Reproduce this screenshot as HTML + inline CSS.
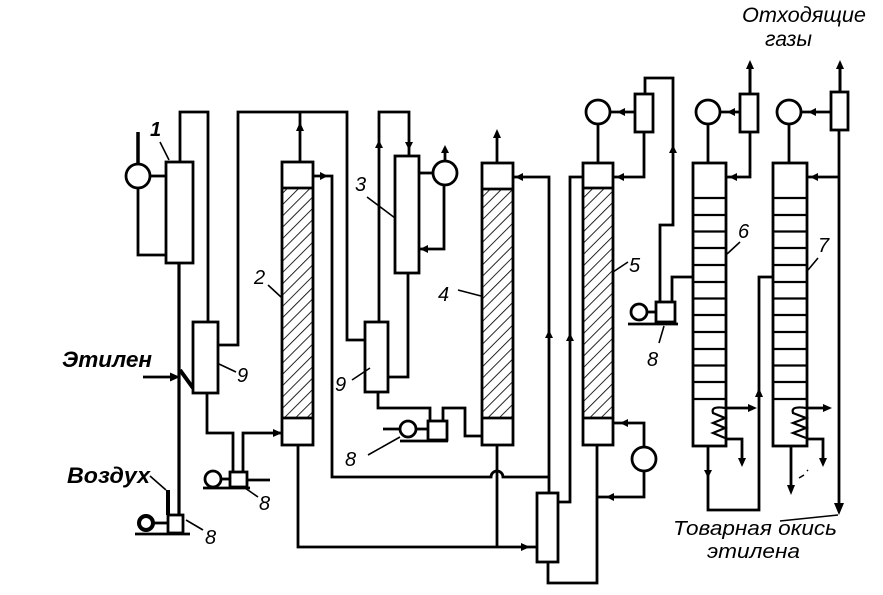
<!DOCTYPE html>
<html><head><meta charset="utf-8"><style>
html,body{margin:0;padding:0;background:#fff;}
svg{display:block;}
.t{font-family:"Liberation Sans","DejaVu Sans",sans-serif;font-style:italic;fill:#000;}
</style></head><body>
<svg width="883" height="595" viewBox="0 0 883 595" xmlns="http://www.w3.org/2000/svg">
<defs>
<pattern id="h" patternUnits="userSpaceOnUse" width="8" height="8" patternTransform="rotate(45)">
<line x1="0" y1="0" x2="0" y2="8" stroke="#000" stroke-width="1.7"/>
</pattern>
</defs>
<rect width="883" height="595" fill="#fff"/>
<g fill="none" stroke="#000" stroke-width="2.8" stroke-linejoin="miter">
<!-- LEFT: unit 1 -->
<rect x="166" y="162" width="27" height="101" fill="#fff"/>
<circle cx="138" cy="176" r="12" fill="#fff"/>
<line x1="150" y1="176" x2="166" y2="176"/>
<line x1="138" y1="164" x2="138" y2="132" stroke-width="3.5"/>
<path d="M138,188 V255 H166"/>
<path d="M180,162 V112 H208 V322"/>
<line x1="179" y1="263" x2="179" y2="515" stroke-width="3.2"/>
<line x1="143" y1="377" x2="172" y2="377"/>
<line x1="180" y1="370" x2="193" y2="388" stroke-width="4"/>
<line x1="160" y1="142" x2="169" y2="160" stroke-width="1.6"/>
<!-- 9 left -->
<rect x="193" y="322" width="25" height="71" fill="#fff"/>
<path d="M218,345 H238 V112 H347 V340 H365"/>
<line x1="300" y1="112" x2="300" y2="162"/>
<line x1="219" y1="364" x2="236" y2="372" stroke-width="1.6"/>
<!-- column 2 -->
<rect x="282" y="188" width="31" height="230" fill="url(#h)" stroke="none"/>
<rect x="282" y="162" width="31" height="283"/>
<line x1="282" y1="188" x2="313" y2="188"/>
<line x1="282" y1="418" x2="313" y2="418"/>
<path d="M313,176 H332 V477 H491 A6,6 0 0 1 503,477 H549"/>
<line x1="268" y1="285" x2="281" y2="297" stroke-width="1.6"/>
<!-- pump 8 left-mid -->
<path d="M207,393 V433 H233 V472"/>
<path d="M243,472 V433 H282"/>
<circle cx="213" cy="479" r="8" fill="#fff"/>
<rect x="230" y="472" width="17" height="15" fill="#fff"/>
<line x1="221" y1="479" x2="230" y2="479"/>
<line x1="203" y1="488" x2="250" y2="488"/>
<line x1="247" y1="480" x2="270" y2="480"/>
<line x1="245" y1="488" x2="258" y2="497" stroke-width="1.6"/>
<!-- col 2 bottom line -->
<path d="M298,445 V547 H537"/>
<!-- bottom pump -->
<circle cx="146" cy="523" r="7" stroke-width="4" fill="#fff"/>
<rect x="168" y="515" width="15" height="18" fill="#fff"/>
<line x1="153" y1="523" x2="168" y2="523"/>
<line x1="135" y1="534" x2="190" y2="534"/>
<line x1="150" y1="476" x2="166" y2="490" stroke-width="1.6"/>
<line x1="168" y1="490" x2="168" y2="515" stroke-width="4"/>
<line x1="186" y1="520" x2="203" y2="530" stroke-width="1.6"/>
<!-- unit 3 -->
<rect x="395" y="156" width="24" height="117" fill="#fff"/>
<circle cx="445" cy="173" r="12" fill="#fff"/>
<line x1="419" y1="173" x2="433" y2="173"/>
<line x1="445" y1="161" x2="445" y2="150"/>
<path d="M444,185 V249 H419"/>
<path d="M409,156 V112 H379 V322"/>
<path d="M408,273 V377 H388"/>
<line x1="367" y1="197" x2="395" y2="218" stroke-width="1.6"/>
<!-- 9 middle -->
<rect x="365" y="322" width="23" height="70" fill="#fff"/>
<path d="M378,392 V408 H430 V422"/>
<line x1="352" y1="380" x2="370" y2="368" stroke-width="1.6"/>
<!-- pump 8 middle -->
<circle cx="408" cy="429" r="8" fill="#fff"/>
<rect x="428" y="421" width="19" height="19" fill="#fff"/>
<line x1="416" y1="429" x2="428" y2="429"/>
<line x1="383" y1="429" x2="400" y2="429"/>
<line x1="400" y1="441" x2="448" y2="441"/>
<path d="M443,421 V408 H465 V436 H482"/>
<line x1="368" y1="455" x2="400" y2="437" stroke-width="1.6"/>
<!-- column 4 -->
<rect x="482" y="189" width="31" height="229" fill="url(#h)" stroke="none"/>
<rect x="482" y="163" width="31" height="282"/>
<line x1="482" y1="189" x2="513" y2="189"/>
<line x1="482" y1="418" x2="513" y2="418"/>
<line x1="497" y1="163" x2="497" y2="136"/>
<path d="M513,177 H549 V493"/>
<line x1="497" y1="445" x2="497" y2="547"/>
<line x1="458" y1="290" x2="481" y2="296" stroke-width="1.6"/>
<!-- bottom box -->
<rect x="537" y="493" width="21" height="69" fill="#fff"/>
<path d="M558,502 H570 V177 H583"/>
<path d="M548,562 V583 H597 V445"/>
<!-- column 5 -->
<rect x="583" y="188" width="30" height="230" fill="url(#h)" stroke="none"/>
<rect x="583" y="163" width="30" height="282"/>
<line x1="583" y1="188" x2="613" y2="188"/>
<line x1="583" y1="418" x2="613" y2="418"/>
<circle cx="598" cy="112" r="12" fill="#fff"/>
<line x1="598" y1="124" x2="598" y2="163"/>
<rect x="635" y="94" width="18" height="38" fill="#fff"/>
<line x1="610" y1="112" x2="635" y2="112"/>
<path d="M644,132 V177 H613"/>
<path d="M645,94 V78 H673 V225 H660 V302"/>
<path d="M613,423 H644 V447"/>
<circle cx="644" cy="459" r="12" fill="#fff"/>
<path d="M644,471 V497 H597"/>
<line x1="628" y1="262" x2="613" y2="272" stroke-width="1.6"/>
<!-- pump 8 right -->
<circle cx="639" cy="312" r="8" fill="#fff"/>
<rect x="656" y="302" width="19" height="20" fill="#fff"/>
<line x1="647" y1="312" x2="656" y2="312"/>
<line x1="628" y1="324" x2="678" y2="324"/>
<path d="M672,302 V277 H693"/>
<line x1="664" y1="326" x2="659" y2="343" stroke-width="1.6"/>
<!-- column 6 -->
<rect x="693" y="163" width="33" height="283" fill="#fff"/>
<path d="M693,198H726M693,215H726M693,231.5H726M693,248H726M693,265H726M693,282H726M693,298.5H726M693,315H726M693,332H726M693,349H726M693,365.5H726M693,382H726M693,399H726" stroke-width="2.2"/>
<circle cx="708" cy="112" r="12" fill="#fff"/>
<line x1="708" y1="124" x2="708" y2="163"/>
<rect x="740" y="94" width="18" height="38" fill="#fff"/>
<line x1="720" y1="112" x2="740" y2="112"/>
<line x1="750" y1="94" x2="750" y2="66" stroke-width="3"/>
<path d="M750,132 V177 H726"/>
<path d="M725,408 C712,406 712,410 713,413 L725,418 L713,423 L725,428 L713,433 L725,438" stroke-width="2.2"/>
<line x1="725" y1="408" x2="752" y2="408"/>
<path d="M725,439 H742 V462"/>
<path d="M708,446 V510 H759 V277 H773"/>
<line x1="740" y1="242" x2="727" y2="254" stroke-width="1.6"/>
<!-- column 7 -->
<rect x="773" y="163" width="34" height="283" fill="#fff"/>
<path d="M773,198H807M773,215H807M773,231.5H807M773,248H807M773,265H807M773,282H807M773,298.5H807M773,315H807M773,332H807M773,349H807M773,365.5H807M773,382H807M773,399H807" stroke-width="2.2"/>
<circle cx="789" cy="112" r="12" fill="#fff"/>
<line x1="789" y1="124" x2="789" y2="163"/>
<rect x="831" y="92" width="17" height="38" fill="#fff"/>
<line x1="801" y1="112" x2="831" y2="112"/>
<line x1="840" y1="92" x2="840" y2="66" stroke-width="3"/>
<line x1="839" y1="130" x2="839" y2="508"/>
<line x1="839" y1="177" x2="807" y2="177"/>
<path d="M806,408 C792,406 792,410 793,413 L806,418 L793,423 L806,428 L793,433 L806,438" stroke-width="2.2"/>
<line x1="806" y1="408" x2="828" y2="408"/>
<path d="M806,439 H823 V462"/>
<line x1="791" y1="446" x2="791" y2="488"/>
<line x1="818" y1="258" x2="808" y2="270" stroke-width="1.6"/>
<path d="M799,478 L804,475 M807,471 L808,470" stroke-width="1.5"/>
<line x1="780" y1="521" x2="838" y2="515" stroke-width="1.4"/>
</g>
<!-- arrowheads -->
<g fill="#000" stroke="none">
<polygon points="180,377 170,372.5 170,381.5"/>
<polygon points="300,122 296,131 304,131"/>
<polygon points="328,176 320,172 320,180"/>
<polygon points="282,433 273,429 273,437"/>
<polygon points="530,547 521,543 521,551"/>
<polygon points="445,145 441,153 449,153"/>
<polygon points="420,249 428,245 428,253"/>
<polygon points="409,150 405,142 413,142"/>
<polygon points="379,140 375,148 383,148"/>
<polygon points="497,129 493,138 501,138"/>
<polygon points="515,177 523,173 523,181"/>
<polygon points="549,330 545,338 553,338"/>
<polygon points="570,333 566,341 574,341"/>
<polygon points="617,112 625,108 625,116"/>
<polygon points="616,177 624,173 624,181"/>
<polygon points="673,145 669,153 677,153"/>
<polygon points="620,423 628,419 628,427"/>
<polygon points="606,497 614,493 614,501"/>
<polygon points="727,112 735,108 735,116"/>
<polygon points="750,60 746,69 754,69"/>
<polygon points="729,177 737,173 737,181"/>
<polygon points="757,408 748,404 748,412"/>
<polygon points="742,467 738,458 746,458"/>
<polygon points="759,388 755,397 763,397"/>
<polygon points="708,478 704,470 712,470"/>
<polygon points="808,112 816,108 816,116"/>
<polygon points="840,60 836,69 844,69"/>
<polygon points="810,177 818,173 818,181"/>
<polygon points="832,408 823,404 823,412"/>
<polygon points="823,467 819,458 827,458"/>
<polygon points="791,495 787,485 795,485"/>
<polygon points="839,515 834,503 844,503"/>
</g>
<!-- labels -->
<g class="t">
<text x="742" y="22" font-size="21" textLength="124" lengthAdjust="spacingAndGlyphs">Отходящие</text>
<text x="765" y="46" font-size="21" textLength="47" lengthAdjust="spacingAndGlyphs">газы</text>
<text x="62" y="367" font-size="22" font-weight="bold" textLength="90" lengthAdjust="spacingAndGlyphs">Этилен</text>
<text x="67" y="483" font-size="22" font-weight="bold" textLength="83" lengthAdjust="spacingAndGlyphs">Воздух</text>
<text x="673" y="535" font-size="20" textLength="164" lengthAdjust="spacingAndGlyphs">Товарная окись</text>
<text x="707" y="558" font-size="20" textLength="93" lengthAdjust="spacingAndGlyphs">этилена</text>
<text x="150" y="136" font-size="20" font-weight="bold">1</text>
<text x="254" y="284" font-size="20">2</text>
<text x="355" y="191" font-size="20">3</text>
<text x="438" y="301" font-size="20">4</text>
<text x="629" y="272" font-size="20">5</text>
<text x="738" y="238" font-size="20">6</text>
<text x="818" y="252" font-size="20">7</text>
<text x="237" y="382" font-size="20">9</text>
<text x="335" y="391" font-size="20">9</text>
<text x="259" y="510" font-size="20">8</text>
<text x="205" y="544" font-size="20">8</text>
<text x="345" y="466" font-size="20">8</text>
<text x="647" y="366" font-size="20">8</text>
</g>
</svg>
</body></html>
